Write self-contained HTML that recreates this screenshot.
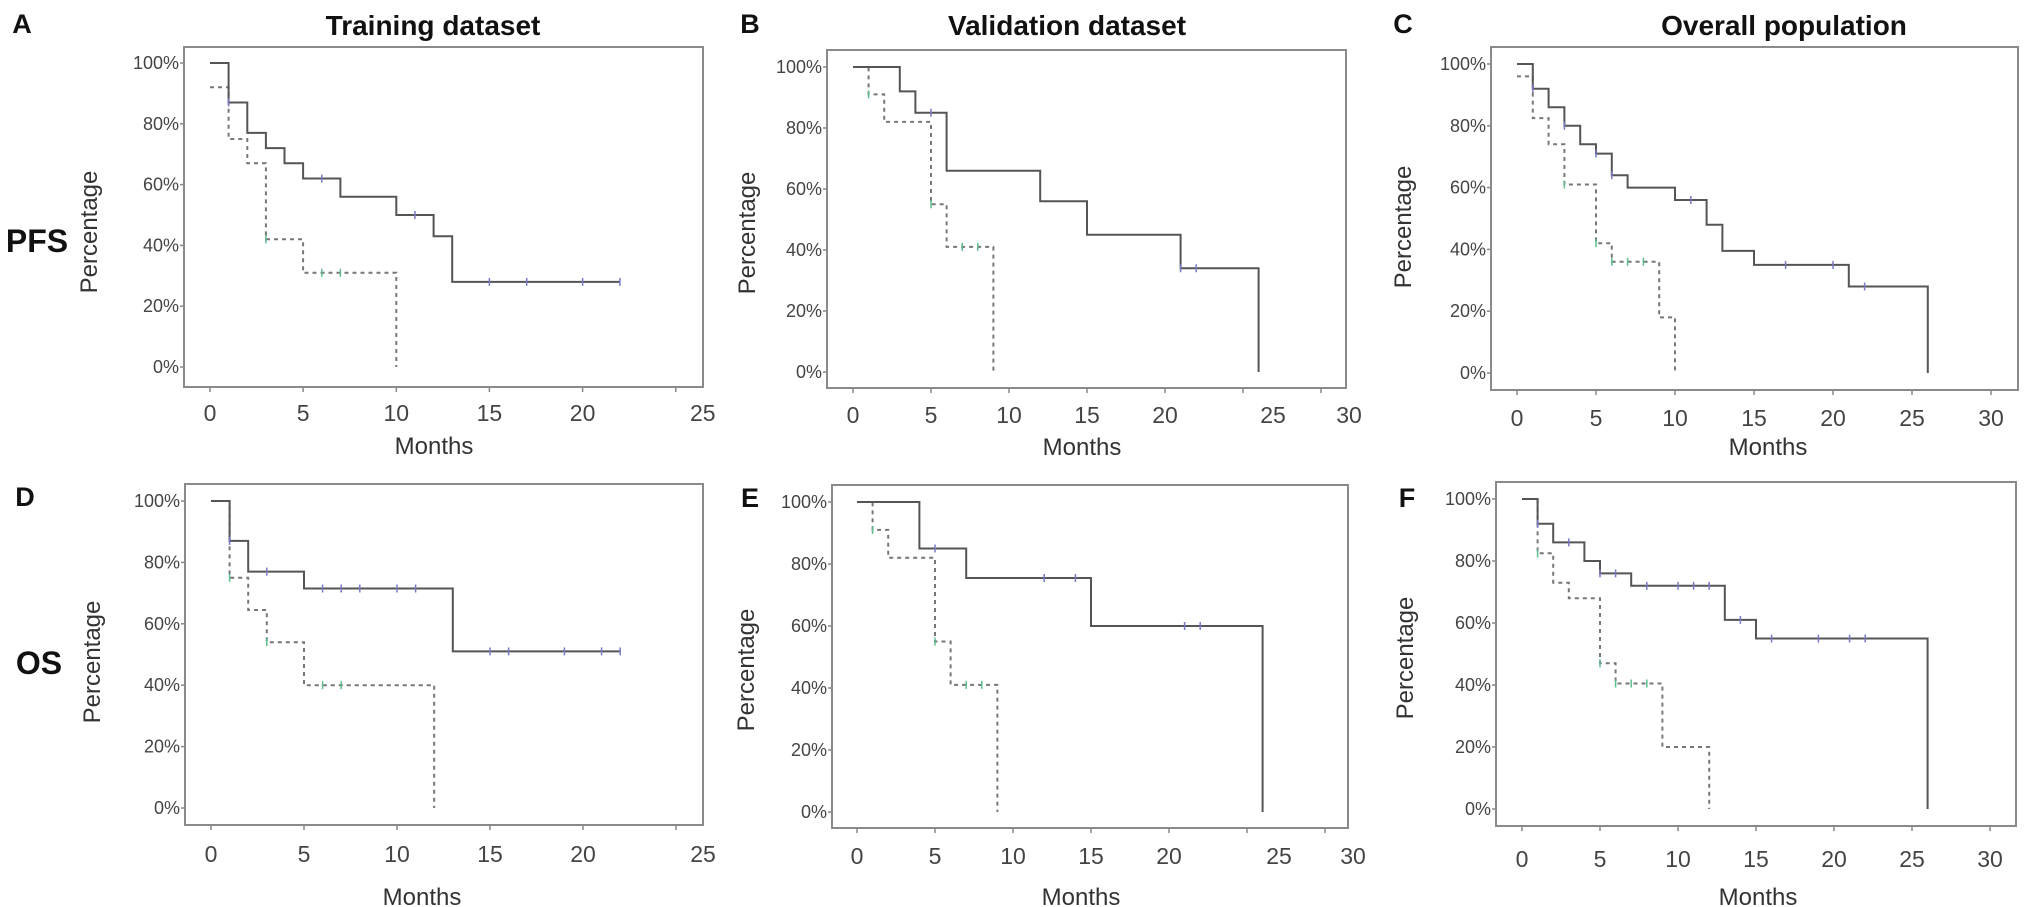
<!DOCTYPE html>
<html><head><meta charset="utf-8"><style>
html,body{margin:0;padding:0;background:#fff;}
svg{display:block;font-family:"Liberation Sans",sans-serif;}
</style></head><body>
<svg id="fig" width="2031" height="907" viewBox="0 0 2031 907" xmlns="http://www.w3.org/2000/svg">
<g font-weight="bold" font-size="28" fill="#111" text-anchor="middle">
<text x="433" y="35">Training  dataset</text>
<text x="1067" y="35">Validation dataset</text>
<text x="1784" y="35">Overall population</text>
</g>
<g font-weight="bold" font-size="32" fill="#111" text-anchor="middle">
<text x="37" y="252">PFS</text>
<text x="39" y="674">OS</text>
</g>
</svg>
<script>
// ---- data (months, survival %) ----
const aSolidT=[0,1,2,3,4,5,7,10,12,13];
const aSolidS=[100,87,77,72,67,62,56,50,43,28];
const aSolidC=[1,6,11,15,17,20,22];
const aDashT=[0,1,2,3,5,10];
const aDashS=[92,75,67,42,31,0];
const aDashC=[3,6,7];
const bSolidT=[0,3,4,6,12,15,21,26];
const bSolidS=[100,92,85,66,56,45,34,0];
const bSolidC=[5,21,22];
const bDashT=[0,1,2,5,6,9];
const bDashS=[100,91,82,55,41,0];
const bDashC=[1,5,7,8];
const cSolidT=[0,1,2,3,4,5,6,7,10,12,13,15,21,26];
const cSolidS=[100,92,86,80,74,71,64,60,56,48,39.5,35,28,0];
const cSolidC=[1,3,5,6,11,17,20,22];
const cDashT=[0,1,2,3,5,6,9,10];
const cDashS=[96,82.5,74,61,42,36,18,0];
const cDashC=[3,5,6,7,8];
const dSolidT=[0,1,2,5,13];
const dSolidS=[100,87,77,71.5,51];
const dSolidC=[1,3,6,7,8,10,11,15,16,19,21,22];
const dDashT=[0,1,2,3,5,12];
const dDashS=[100,75,64.5,54,40,0];
const dDashC=[1,3,6,7];
const eSolidT=[0,4,7,15,26];
const eSolidS=[100,85,75.5,60,0];
const eSolidC=[5,12,14,21,22];
const eDashT=[0,1,2,5,6,9];
const eDashS=[100,91,82,55,41,0];
const eDashC=[1,5,7,8];
const fSolidT=[0,1,2,4,5,7,13,15,26];
const fSolidS=[100,92,86,80,76,72,61,55,0];
const fSolidC=[1,3,5,6,8,10,11,12,14,16,19,21,22];
const fDashT=[0,1,2,3,5,6,9,12];
const fDashS=[100,82.5,73,68,47,40.5,20,0];
const fDashC=[1,5,6,7,8];
const solidEnds=[22,26,26,22,26,26];
const yTickLabels=["0%","20%","40%","60%","80%","100%"];
const xTicksShort=[0,5,10,15,20,25];
const xTicksLong=[0,5,10,15,20,25,30];

const NS="http://www.w3.org/2000/svg";
const svg=document.getElementById('fig');
function mk(tag,attrs,parent){const e=document.createElementNS(NS,tag);for(const k in attrs)e.setAttribute(k,attrs[k]);(parent||svg).appendChild(e);return e;}

const panels=[
 {id:'a',L:'A',lx:22,ly:33,left:184,right:703,top:47,bottom:387,x0:210,ppm:18.63,y100:63,y0:367,ticks:xTicksShort,off:{25:27},tly:413,mx:434,my:446,px:89,py:232,sT:aSolidT,sS:aSolidS,sC:aSolidC,dT:aDashT,dS:aDashS,dC:aDashC,end:0},
 {id:'b',L:'B',lx:750,ly:33,left:827,right:1346,top:50,bottom:388,x0:853,ppm:15.6,y100:67,y0:372,ticks:xTicksLong,off:{25:30,30:28},tly:415,mx:1082,my:447,px:747,py:233,sT:bSolidT,sS:bSolidS,sC:bSolidC,dT:bDashT,dS:bDashS,dC:bDashC,end:1},
 {id:'c',L:'C',lx:1403,ly:33,left:1491,right:2018,top:47,bottom:390,x0:1517,ppm:15.8,y100:64,y0:373,ticks:xTicksLong,off:{},tly:418,mx:1768,my:447,px:1403,py:227,sT:cSolidT,sS:cSolidS,sC:cSolidC,dT:cDashT,dS:cDashS,dC:cDashC,end:2},
 {id:'d',L:'D',lx:25,ly:506,left:185,right:703,top:484,bottom:825,x0:211,ppm:18.6,y100:501,y0:808,ticks:xTicksShort,off:{25:27},tly:854,mx:422,my:897,px:92,py:662,sT:dSolidT,sS:dSolidS,sC:dSolidC,dT:dDashT,dS:dDashS,dC:dDashC,end:3},
 {id:'e',L:'E',lx:750,ly:507,left:832,right:1348,top:485,bottom:828,x0:857,ppm:15.6,y100:502,y0:812,ticks:xTicksLong,off:{25:32,30:28},tly:856,mx:1081,my:897,px:746,py:670,sT:eSolidT,sS:eSolidS,sC:eSolidC,dT:eDashT,dS:eDashS,dC:eDashC,end:4},
 {id:'f',L:'F',lx:1407,ly:507,left:1496,right:2016,top:482,bottom:826,x0:1522,ppm:15.6,y100:499,y0:809,ticks:xTicksLong,off:{},tly:859,mx:1758,my:897,px:1405,py:658,sT:fSolidT,sS:fSolidS,sC:fSolidC,dT:fDashT,dS:fDashS,dC:fDashC,end:5}
];

function stepPath(T,S,end,X,Y){
  let d='M'+X(T[0])+' '+Y(S[0]);
  for(let i=1;i<T.length;i++){d+=' H'+X(T[i])+' V'+Y(S[i]);}
  const last=S[S.length-1];
  if(last>0) d+=' H'+X(end);
  return d;
}
function survAt(T,S,t){let v=S[0];for(let i=0;i<T.length;i++){if(T[i]<=t)v=S[i];}return v;}

panels.forEach(p=>{
  const g=mk('g',{});
  
  
  const X=t=>+(p.x0+t*p.ppm).toFixed(1);
  const Y=s=>+(p.y0-(s/100)*(p.y0-p.y100)).toFixed(1);
  const lab=mk('text',{x:p.lx,y:p.ly,'font-size':27,'font-weight':'bold','text-anchor':'middle',fill:'#111'},g);
  lab.textContent=p.L;
  
  
  const box=mk('rect',{x:p.left,y:p.top,width:p.right-p.left,height:p.bottom-p.top,fill:'none',stroke:'#8a8a8a','stroke-width':2},g);
  
  
  yTickLabels.forEach((t,i)=>{
    const yy=Y(i*20);
    mk('line',{x1:p.left-4,x2:p.left,y1:yy,y2:yy,stroke:'#888','stroke-width':1.5},g);
    const tx=mk('text',{x:p.left-5,y:yy+6,'font-size':18,'text-anchor':'end',fill:'#444'},g);
    tx.textContent=t;
    
    
  });
  p.ticks.forEach(t=>{
    const xx=X(t);
    mk('line',{x1:xx,x2:xx,y1:p.bottom,y2:p.bottom+5,stroke:'#888','stroke-width':1.5},g);
    const tx=mk('text',{x:xx+(p.off[t]||0),y:p.tly+8,'font-size':23,'text-anchor':'middle',fill:'#444'},g);
    tx.textContent=String(t);
    
    
  });
  const mt=mk('text',{x:p.mx,y:p.my+8,'font-size':24,'text-anchor':'middle',fill:'#333'},g);
  mt.textContent='Months';
  
  
  const pt=mk('text',{x:0,y:0,'font-size':24,'text-anchor':'middle',fill:'#333',transform:'translate('+(p.px+8)+','+p.py+') rotate(-90)'},g);
  pt.textContent='Percentage';
  
  
  const dEnd=p.dT[p.dT.length-1];
  const dp=mk('path',{d:stepPath(p.dT,p.dS,dEnd,X,Y),fill:'none',stroke:'#777','stroke-width':2,'stroke-dasharray':'4 4'},g);
  
  
  p.dC.forEach(t=>{
    const cm=mk('line',{x1:X(t),x2:X(t),y1:Y(survAt(p.dT,p.dS,t))-4,y2:Y(survAt(p.dT,p.dS,t))+4,stroke:'#5cbf8c','stroke-width':1.5},g);
    
    
  });
  const sp=mk('path',{d:stepPath(p.sT,p.sS,solidEnds[p.end],X,Y),fill:'none',stroke:'#555','stroke-width':2},g);
  
  
  p.sC.forEach(t=>{
    const cm=mk('line',{x1:X(t),x2:X(t),y1:Y(survAt(p.sT,p.sS,t))-4,y2:Y(survAt(p.sT,p.sS,t))+4,stroke:'#7a7ac8','stroke-width':1.5},g);
    
    
  });
});
</script>
</body></html>
